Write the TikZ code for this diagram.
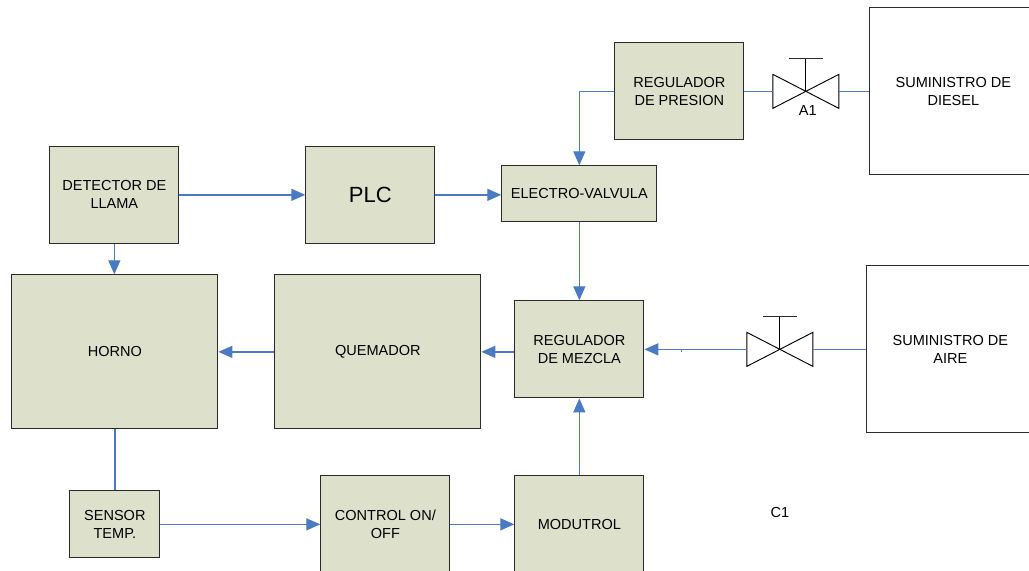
\documentclass[tikz,border=0pt]{standalone}
\usepackage{fontspec}
\setmainfont{Liberation Sans}
\usepackage{xcolor}
\usetikzlibrary{arrows.meta, positioning}
\definecolor{blockfill}{HTML}{DDE1CC}
\definecolor{linkblue}{HTML}{4A7AC2}
\definecolor{edgegray}{HTML}{2A2A2A}

\begin{document}
\begin{tikzpicture}[
    x=0.75pt, y=-0.75pt,
    block/.style={rectangle, draw=edgegray, line width=0.8pt, fill=blockfill, minimum width=96.75pt, minimum height=72.75pt, inner sep=0pt, align=center, font=\fontsize{10.9}{13.4}\selectfont},
    supply/.style={rectangle, draw=edgegray, line width=0.8pt, fill=white, minimum width=125.25pt, minimum height=125.25pt, inner sep=0pt, align=center, font=\fontsize{10.9}{13.4}\selectfont},
    tag/.style={inner sep=0pt, align=center, font=\fontsize{10.9}{13.4}\selectfont},
    arrow/.style={-{Triangle[length=10.5pt, width=9pt]}, linkblue, line width=1pt},
    link/.style={linkblue, line width=1pt},
    valvesym/.pic={
        \draw[black, line width=0.7pt, fill=white] (-33,-17) -- (33,17) -- (33,-17) -- (-33,17) -- cycle;
        \draw[black, line width=0.7pt] (0,0) -- (0,-33);
        \draw[edgegray, line width=0.8pt] (-17,-33) -- (17,-33);
        \coordinate (-left) at (-33,0);
        \coordinate (-right) at (33,0);
    }
]
\clip (0,0) rectangle (1029,571);
\begin{scope}[shift={(-0.15,-0.15)}]

% Top row
\node[block] (regpres) at (679.5,91.5) {REGULADOR\\DE PRESION};
\node[block] (detector) at (114.5,195) {DETECTOR DE\\LLAMA};
\node[block, font=\fontsize{16.5}{20}\selectfont] (plc) at (370.5,195) {PLC};
\node[block, minimum width=116.25pt, minimum height=42pt] (electro) at (579.5,194) {ELECTRO-VALVULA};

% Middle row
\node[block, minimum width=154.5pt, minimum height=115.5pt] (horno) at (115,352) {HORNO};
\node[block, minimum width=154.5pt, minimum height=115.5pt] (quemador) at (378,352) {QUEMADOR};
\node[block] (regmez) at (579.5,349.5) {REGULADOR\\DE MEZCLA};

% Bottom row, cut by the page
\node[block, minimum width=67.5pt, minimum height=50.25pt] (sensor) at (115,524.5) {SENSOR\\TEMP.};
\node[block] (control) at (385.5,524.5) {CONTROL ON/\\OFF};
\node[block] (modutrol) at (579.5,524.5) {MODUTROL};

% Supplies
\node[supply] (diesel) at (953.5,91.5) {SUMINISTRO DE\\DIESEL};
\node[supply] (aire) at (950.5,349.5) {SUMINISTRO DE\\AIRE};

% Valves
\pic (valvediesel) at (806,91.5) {valvesym};
\pic (valveaire) at (780,349.5) {valvesym};
\node[tag] (aone) at (808,111) {A1};
\node[tag] (cone) at (780,513) {C1};

% Connections
\draw[arrow] (regpres.west) -| (electro.north);
\draw[link] (regpres.east) -- (valvediesel-left);
\draw[link] (valvediesel-right) -- (diesel.west);
\draw[arrow] (detector.east) -- (plc.west);
\draw[arrow] (plc.east) -- (plc.east -| electro.west);
\draw[arrow] (detector.south) -- (detector.south |- horno.north);
\draw[arrow] (electro.south) -- (regmez.north);
\draw[arrow] (regmez.west |- quemador.east) -- (quemador.east);
\draw[arrow] (quemador.west) -- (horno.east);
\draw[arrow] (valveaire-left) -- (regmez.east);
\draw[link] (valveaire-right) -- (aire.west);
\draw[link] (horno.south) -- (sensor.north);
\draw[arrow] (sensor.east) -- (control.west);
\draw[arrow] (control.east) -- (modutrol.west);
\draw[arrow] (modutrol.north) -- (regmez.south);
\draw[link, line width=0.7pt] (682,349.5) -- (682,352);

\end{scope}
\end{tikzpicture}
\end{document}
